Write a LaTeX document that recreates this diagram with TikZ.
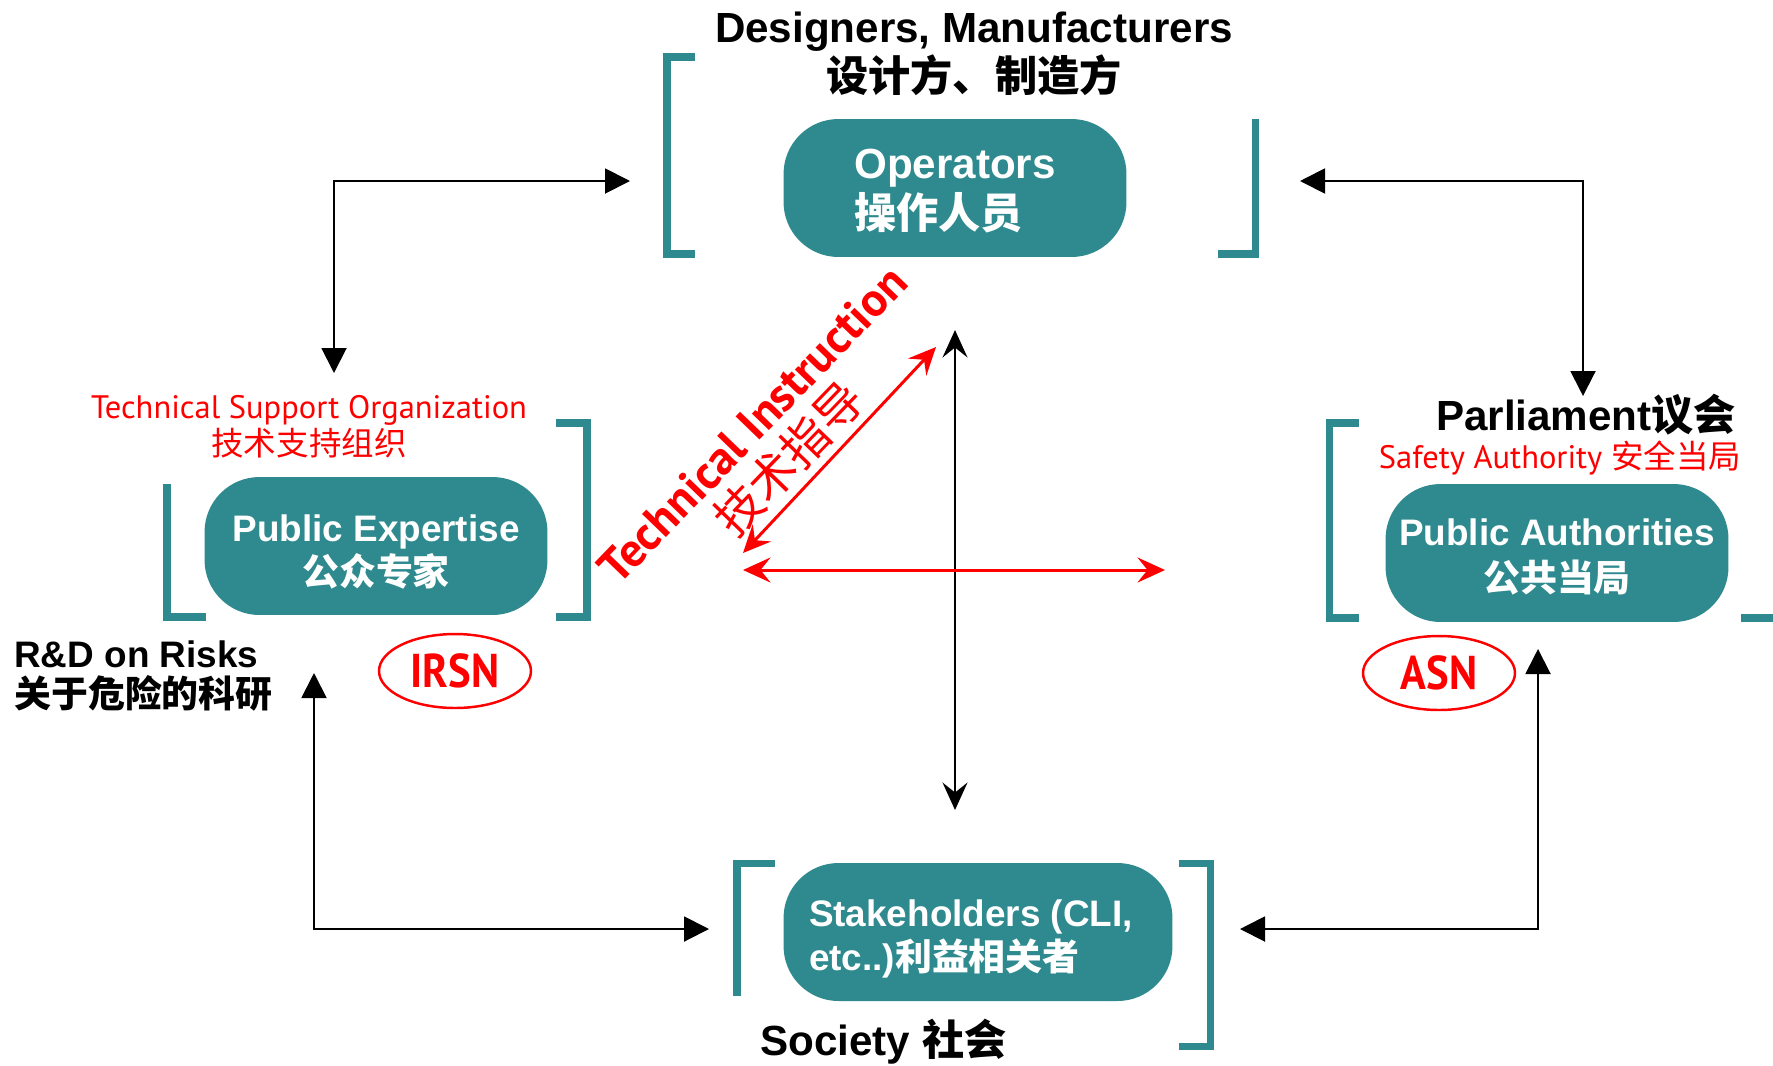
\documentclass[tikz,border=0pt]{standalone}
\usepackage{fontspec}
\setmainfont{Liberation Sans}
\newfontfamily\cjk{Noto Sans CJK SC}
\newfontfamily\ptsans{PT Sans}
\newfontfamily\ptnarrow{PT Sans}[FakeStretch=0.9]
\usetikzlibrary{arrows.meta,shapes.geometric}

\definecolor{boxteal}{HTML}{2E8A8E}
\definecolor{signred}{HTML}{FF0000}

\tikzset{
	actor/.style={rectangle, rounded corners=1.1cm, fill=boxteal, inner sep=0pt,
		minimum width=6.86cm, minimum height=2.76cm},
	actortext/.style={inner sep=0pt, text=white, font=\bfseries\fontsize{21}{25}\selectfont},
	bracket/.style={draw=boxteal, line width=4pt},
	heading/.style={inner sep=0pt, font=\bfseries\fontsize{24}{28}\selectfont},
	redlabel/.style={inner sep=0pt, text=signred, font=\ptsans\fontsize{18.5}{21}\selectfont},
	agency/.style={ellipse, draw=signred, line width=1.4pt, text=signred, inner sep=0pt,
		minimum width=3.04cm, minimum height=1.48cm, font=\ptnarrow\bfseries\fontsize{27}{30}\selectfont},
	link/.style={line width=1.1pt, {Triangle[length=0.5cm,width=0.5cm]}-{Triangle[length=0.5cm,width=0.5cm]}},
	axis/.style={line width=1.1pt, {Stealth[length=0.55cm,width=0.5cm,inset=0.2cm]}-{Stealth[length=0.55cm,width=0.5cm,inset=0.2cm]}},
	redaxis/.style={axis, draw=signred, line width=1.7pt},
}

\begin{document}
\begin{tikzpicture}[x=0.02cm, y=-0.02cm]
	\clip (0,0) rectangle (1773,1065);
	\fill[white] (0,0) rectangle (1773,1065);

	% brackets
	\draw[bracket] (695,57) -- (667,57) -- (667,254) -- (695,254);
	\draw[bracket] (1255,119) -- (1255,254) -- (1218,254);
	\draw[bracket] (167,484) -- (167,617) -- (206,617);
	\draw[bracket] (556,423) -- (587,423) -- (587,617) -- (556,617);
	\draw[bracket] (1359,423) -- (1329,423) -- (1329,618) -- (1359,618);
	\draw[bracket] (1741,618) -- (1795,618) -- (1795,430);
	\draw[bracket] (775,863) -- (737,863) -- (737,996);
	\draw[bracket] (1179,863) -- (1210,863) -- (1210,1046) -- (1179,1046);

	% boxes
	\node[actor] (ops) at (955,188) {};
	\node[actor] (expertise) at (376,546) {};
	\node[actor] (authorities) at (1557,553) {};
	\node[actor, minimum width=7.78cm] (stakeholders) at (978,932) {};

	\node[actortext, align=left, font=\bfseries\fontsize{24}{28}\selectfont] (opsText) at (955,191) {Operators\\{\cjk 操作人员}};
	\node[actortext, align=center] (expertiseText) at (376,552) {Public Expertise\\{\cjk 公众专家}};
	\node[actortext, align=center, font=\bfseries\fontsize{21}{26}\selectfont] (authoritiesText) at (1557,557) {Public Authorities\\{\cjk 公共当局}};
	\node[actortext, align=left] (stakeholdersText) at (971,939) {Stakeholders (CLI,\\etc..){\cjk 利益相关者}};

	% labels
	\node[heading, align=center] (makers) at (974,54) {Designers, Manufacturers\\{\cjk 设计方、制造方}};
	\node[redlabel, align=center] (tso) at (309,427) {Technical Support Organization\\{\cjk 技术支持组织}};
	\node[heading, anchor=west, align=left, font=\bfseries\fontsize{21}{23}\selectfont] (rnd) at (14,676) {R\&D on Risks\\{\cjk 关于危险的科研}};
	\node[heading] (parliament) at (1586,415) {Parliament{\cjk 议会}};
	\node[redlabel] (safety) at (1560,458) {Safety Authority {\cjk 安全当局}};
	\node[heading, anchor=west] (society) at (760,1042) {Society {\cjk 社会}};
	\node[redlabel, rotate=46, align=center, font=\ptsans\bfseries\fontsize{27}{29}\selectfont] (instruction) at (772,443) {Technical Instruction\\{\cjk\mdseries 技术指导}};

	\node[agency] (irsn) at (455,671) {IRSN};
	\node[agency] (asn) at (1439,673) {ASN};

	% connectors
	\coordinate (opsW) at (630,181);
	\coordinate (expN) at (334,373);
	\coordinate (opsE) at (1300,181);
	\coordinate (authN) at (1583,396);
	\coordinate (expS) at (314,673);
	\coordinate (stakeW) at (709,929);
	\coordinate (authS) at (1538,649);
	\coordinate (stakeE) at (1240,929);
	\draw[link] (opsW) -| (expN);
	\draw[link] (opsE) -| (authN);
	\draw[link] (expS) |- (stakeW);
	\draw[link] (authS) |- (stakeE);

	\coordinate (midN) at (955,330);
	\coordinate (midS) at (955,810);
	\coordinate (midW) at (743,570);
	\coordinate (midE) at (1165,570);
	\coordinate (diagA) at (743,553);
	\coordinate (diagB) at (936,347);
	\draw[axis] (midN) -- (midS);
	\draw[redaxis] (midW) -- (midE);
	\draw[redaxis] (diagA) -- (diagB);
\end{tikzpicture}
\end{document}
